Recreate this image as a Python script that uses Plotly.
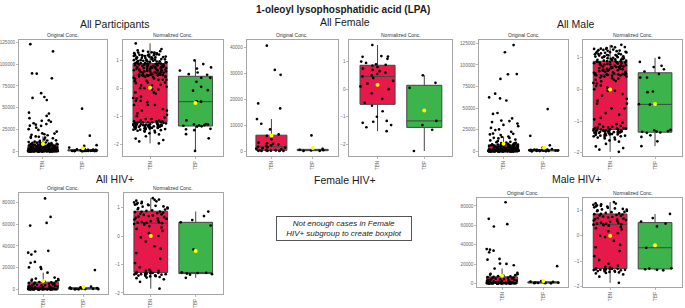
import numpy as np
import plotly.graph_objects as go

# ---------------- data ----------------
categories = ["TBN", "TBP"]

# Female, HIV-negative
fneg_tbn_norm = [-1.52, -1.38, -1.3, -1.18, -1.15, -1.0, -0.8, -0.6, -0.5, -0.35, -0.15, 0.0, 0.1, 0.2,
                 0.3, 0.4, 0.46, 0.5, 0.55, 0.6, 0.65, 0.7, 0.75, 0.8, 0.85, 0.88, 0.9, 0.95, 1.0, 1.17,
                 1.18, 1.2, 1.6]
fneg_tbn_orig = [40500, 31200, 29300, 18300, 16400, 12300, 10500, 8300, 6400, 5800, 4500, 3200, 3000,
                 2800, 2200, 2000, 1700, 1500, 1300, 1100, 900, 700, 500, 400, 250, 200, 150, 120, 100,
                 80, 60, 40, 20]
fneg_tbp_norm = [0.5, 0.23, 0.05, -1.15, -2.24]
fneg_tbp_orig = [6000, 800, 500, 200, 50]

# Female, HIV-positive (too few for their own boxplot)
fhiv_tbn_norm = [1.1, -1.22]
fhiv_tbn_orig = [2500, 300]
fhiv_tbp_norm = [-1.3, -1.47]
fhiv_tbp_orig = [300, 100]

# Male, HIV-positive
mhiv_tbn_norm = [-1.85, -1.61, -1.52, -1.48, -1.46, -1.44, -1.42, -1.41, -1.4, -1.39, -1.38, -1.37,
                 -1.36, -1.35, -1.34, -1.34, -1.33, -1.32, -1.32, -1.31, -1.3, -1.3, -1.29, -1.27,
                 -1.25, -1.22, -1.18, -1.1, -0.95, -0.8, -0.6, -0.45, -0.36, -0.2, -0.05, 0.0, 0.1,
                 0.18, 0.25, 0.3, 0.35, 0.4, 0.42, 0.44, 0.45, 0.46, 0.47, 0.48, 0.5, 0.52, 0.55, 0.58,
                 0.6, 0.62, 0.64, 0.66, 0.68, 0.7, 0.72, 0.74, 0.76, 0.78, 0.8, 0.82, 0.84, 0.85, 0.86,
                 0.88, 0.9, 0.93, 0.94, 0.97, 0.98, 1.0, 1.03, 1.04, 1.06, 1.08, 1.1, 1.12, 1.15, 1.16,
                 1.18, 1.2, 1.22, 1.24, 1.27, 1.28, 1.33]
mhiv_tbn_orig = [83800, 66700, 61200, 58800, 35500, 34900, 33800, 32100, 25300, 24500, 20500, 20200,
                 18800, 15400, 10900, 10000, 9500, 9000, 8500, 8000, 7500, 7200, 6800, 6500, 6100, 5800,
                 5500, 5200, 4900, 4600, 4300, 4000, 3700, 3500, 3200, 3000, 2800, 2600, 2400, 2200,
                 2000, 1800, 1600, 1400, 1200, 1100, 1050, 1000, 950, 900, 850, 800, 750, 700, 650, 600,
                 550, 500, 450, 400, 360, 320, 280, 250, 220, 190, 160, 150, 140, 130, 120, 110, 100, 95,
                 90, 85, 80, 75, 70, 65, 60, 55, 50, 45, 40, 35, 30, 20, 10]
mhiv_tbp_norm = [-1.36, -1.34, -1.32, -1.29, -1.28, -0.47, 0.37, 0.48, 0.56, 0.7, 0.86]
mhiv_tbp_orig = [17800, 2500, 1900, 1600, 1200, 900, 700, 500, 300, 200, 100]

# Male, HIV-negative
mneg_tbn_norm = [-1.97, -1.9, -1.8, -1.72, -1.65, -1.58, -1.55, -1.52, -1.5, -1.48, -1.46, -1.45, -1.44,
                 -1.42, -1.41, -1.4, -1.38, -1.37, -1.36, -1.35, -1.34, -1.33, -1.31, -1.3, -1.29,
                 -1.28, -1.26, -1.25, -1.24, -1.23, -1.22, -1.21, -1.2, -1.18, -1.15, -1.1, -1.05, -0.9,
                 -0.75, -0.6, -0.45, -0.3, -0.15, -0.05, 0.05, 0.12, 0.2, 0.26, 0.3, 0.34, 0.37, 0.4,
                 0.42, 0.44, 0.46, 0.47, 0.48, 0.5, 0.52, 0.54, 0.55, 0.57, 0.58, 0.6, 0.61, 0.63, 0.64,
                 0.66, 0.67, 0.69, 0.7, 0.72, 0.73, 0.75, 0.76, 0.78, 0.79, 0.81, 0.82, 0.84, 0.85,
                 0.87, 0.88, 0.89, 0.9, 0.92, 0.93, 0.95, 0.96, 0.98, 0.99, 1.01, 1.02, 1.04, 1.05, 1.07,
                 1.08, 1.1, 1.11, 1.13, 1.15, 1.17, 1.19, 1.21, 1.23, 1.25, 1.27, 1.3, 1.32, 1.35, 1.4]
mneg_tbn_orig = [123000, 114700, 89400, 89100, 62300, 44300, 43200, 38000, 30500, 29000, 27000, 22500,
                 19500, 17000, 16500, 15500, 14800, 13500, 12500, 11800, 10500, 9800, 9200, 8600, 8100,
                 7800, 7600, 7550, 7300, 7000, 6700, 6400, 6100, 5800, 5500, 5200, 4900, 4600, 4300,
                 4000, 3800, 3600, 3400, 3200, 3000, 2800, 2600, 2400, 2200, 2000, 1900, 1800, 1600,
                 1500, 1400, 1300, 1250, 1200, 1150, 1100, 1050, 1000, 950, 900, 850, 800, 750, 700,
                 650, 600, 550, 500, 450, 420, 390, 360, 330, 300, 280, 260, 240, 220, 200, 190, 180,
                 170, 160, 150, 140, 130, 120, 110, 100, 95, 90, 85, 80, 75, 70, 65, 60, 55, 50, 45, 40,
                 35, 30, 25, 20, 15, 10]
mneg_tbp_norm = [-1.79, -1.64, -1.5, -1.45, -1.37, -1.33, -0.48, -0.09, -0.07, 0.37, 0.63, 0.74, 0.99]
mneg_tbp_orig = [48900, 6900, 4200, 2000, 1500, 1200, 1000, 800, 600, 400, 300, 200, 100]

group_titles = ["All Participants", "All Female", "All Male", "All HIV+", "Female HIV+", "Male HIV+"]
panel_titles = ["Original Conc.", "Normalized Conc."]
main_title = "1-oleoyl lysophosphatidic acid (LPA)"
note_text = "Not enough cases in Female<br>HIV+ subgroup to create boxplot"

# ---------------- subgroup composition ----------------
female = {k: v1 + v2 for k, v1, v2 in [
    ("tbn_norm", fneg_tbn_norm, fhiv_tbn_norm), ("tbn_orig", fneg_tbn_orig, fhiv_tbn_orig),
    ("tbp_norm", fneg_tbp_norm, fhiv_tbp_norm), ("tbp_orig", fneg_tbp_orig, fhiv_tbp_orig)]}
male = {k: v1 + v2 for k, v1, v2 in [
    ("tbn_norm", mneg_tbn_norm, mhiv_tbn_norm), ("tbn_orig", mneg_tbn_orig, mhiv_tbn_orig),
    ("tbp_norm", mneg_tbp_norm, mhiv_tbp_norm), ("tbp_orig", mneg_tbp_orig, mhiv_tbp_orig)]}
allp = {k: female[k] + male[k] for k in female}
allhiv = {"tbn_norm": fhiv_tbn_norm + mhiv_tbn_norm, "tbn_orig": fhiv_tbn_orig + mhiv_tbn_orig,
          "tbp_norm": fhiv_tbp_norm + mhiv_tbp_norm, "tbp_orig": fhiv_tbp_orig + mhiv_tbp_orig}
malehiv = {"tbn_norm": mhiv_tbn_norm, "tbn_orig": mhiv_tbn_orig,
           "tbp_norm": mhiv_tbp_norm, "tbp_orig": mhiv_tbp_orig}

# ---------------- layout (pixels) ----------------
W, H = 685, 308
RED, GREEN = "#e6194B", "#3cb44b"
FONT = "Liberation Sans, Arial, sans-serif"
BOXW = 0.75


def fx(p):
    return p / W


def fy(p):
    return 1 - p / H


def jitter_groups(vals, pos, size=6, eps=2e-5):
    """Position of each point's (invisible) jitter box: the category position,
    with points grouped by rank in small sets so that Plotly's own jitter spreads
    every point over the full box width (like ggplot's geom_jitter)."""
    order = np.argsort(vals, kind="stable")
    xs = np.empty(len(vals))
    for rank, idx in enumerate(order):
        xs[idx] = pos + (rank // size) * eps
    return xs


# (group data, kind, x0, x1, y0, y1, yrange, dtick)
panels = [
    (allp, "orig", 18, 106, 40, 157, [-5500, 128100], 25000),
    (allp, "norm", 122, 222, 40, 157, [-2.42, 1.73], 1),
    (female, "orig", 246, 337, 40, 157, [-1900, 42800], 10000),
    (female, "norm", 349, 452, 40, 157, [-2.42, 1.79], 1),
    (male, "orig", 479, 568, 40, 157, [-5500, 129200], 25000),
    (male, "norm", 583, 682, 40, 157, [-2.1, 1.56], 1),
    (allhiv, "orig", 18, 107, 194, 296, [-4300, 89000], 20000),
    (allhiv, "norm", 123, 222, 194, 296, [-2.04, 1.52], 1),
    (malehiv, "orig", 477, 568, 199, 289, [-3800, 88500], 20000),
    (malehiv, "norm", 583, 682, 199, 289, [-2.02, 1.5], 1),
]
cat_pos = [1, 2]

fig = go.Figure()
annotations = []
layout_axes = {}
for i, (grp, kind, x0, x1, y0, y1, yr, dt) in enumerate(panels, start=1):
    xa, ya = f"x{i}", f"y{i}"
    pts_x, pts_y = [], []
    for cat, pos, col in zip(categories, cat_pos, [RED, GREEN]):
        vals = grp[f"{cat.lower()}_{kind}"]
        # the box itself (whiskers to 1.5 IQR)
        fig.add_trace(go.Box(
            x=[pos] * len(vals), y=vals, xaxis=xa, yaxis=ya, width=BOXW,
            boxpoints="outliers", whiskerwidth=0, fillcolor=col,
            line=dict(color="#444444", width=1), marker=dict(opacity=0, size=1),
            quartilemethod="inclusive", showlegend=False, hoverinfo="skip"))
        pts_x.extend(jitter_groups(vals, pos))
        pts_y.extend(vals)
    # jittered raw points (black)
    fig.add_trace(go.Box(
        x=pts_x, y=pts_y, xaxis=xa, yaxis=ya, width=BOXW, boxpoints="all", jitter=1,
        pointpos=0, fillcolor="rgba(0,0,0,0)", line=dict(width=0), whiskerwidth=0,
        marker=dict(color="black", size=2.7, line=dict(width=0)),
        showlegend=False, hoverinfo="y"))
    means = [float(np.mean(grp[f"{c.lower()}_{kind}"])) for c in categories]
    fig.add_trace(go.Scatter(x=cat_pos, y=means, xaxis=xa, yaxis=ya, mode="markers",
                             marker=dict(color="#ffff00", size=4), showlegend=False))
    axstyle = dict(showline=True, mirror=True, linecolor="#a6a6a6", linewidth=1,
                   ticks="outside", ticklen=2, tickcolor="#a6a6a6", tickwidth=0.8,
                   showgrid=False, zeroline=False, fixedrange=True,
                   tickfont=dict(family=FONT, size=4.6, color="#666666"))
    key = "" if i == 1 else str(i)
    layout_axes[f"xaxis{key}"] = dict(domain=[fx(x0), fx(x1)], anchor=ya, type="linear",
                                      tickmode="array", tickvals=cat_pos, ticktext=categories,
                                      range=[0.4, 2.6], tickangle=-90, **axstyle)
    layout_axes[f"yaxis{key}"] = dict(domain=[fy(y1), fy(y0)], anchor=xa, range=yr, dtick=dt,
                                      tickformat="d", **axstyle)
    annotations.append(dict(text=panel_titles[0 if kind == "orig" else 1], x=fx((x0 + x1) / 2),
                            y=fy(y0 - 5), xref="paper", yref="paper", showarrow=False,
                            xanchor="center", yanchor="middle",
                            font=dict(family=FONT, size=5, color="#333333")))

group_pos = [(114, 24), (345, 22), (576, 24), (114, 180), (345, 181), (576, 180)]
for t, (gx, gy) in zip(group_titles, group_pos):
    annotations.append(dict(text=t, x=fx(gx), y=fy(gy), xref="paper", yref="paper",
                            showarrow=False, xanchor="center", yanchor="middle",
                            font=dict(family=FONT, size=10.5, color="#1a1a1a")))

annotations.append(dict(text="<b>" + main_title + "</b>", x=0.5, y=fy(10), xref="paper",
                        yref="paper", showarrow=False, xanchor="center", yanchor="middle",
                        font=dict(family=FONT, size=10, color="#1a1a1a")))
annotations.append(dict(text="<i>" + note_text + "</i>", x=fx(344), y=fy(229.5), xref="paper",
                        yref="paper", showarrow=False, xanchor="center", yanchor="middle",
                        width=132, height=21, borderpad=1,
                        bordercolor="#555555", borderwidth=1, bgcolor="white",
                        font=dict(family=FONT, size=8, color="#222222")))

fig.update_layout(width=W, height=H, margin=dict(l=0, r=0, t=0, b=0),
                  paper_bgcolor="white", plot_bgcolor="white", hovermode=False,
                  annotations=annotations, showlegend=False, **layout_axes)
fig.write_html("out.html", config={"displayModeBar": False, "staticPlot": True},
               post_script="document.body.style.margin='0px';document.body.style.padding='0px';")
